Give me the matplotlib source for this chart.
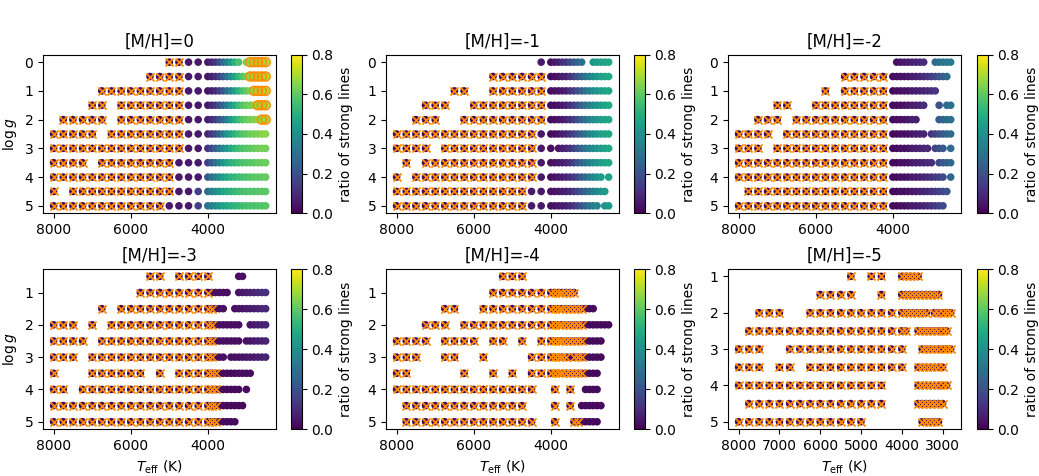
import numpy as np
import matplotlib.pyplot as plt

# Teff grid: hot part (250 K steps) and cool part (100 K steps)
hot_teff = [8000, 7750, 7500, 7250, 7000, 6750, 6500, 6250, 6000, 5750, 5500, 5250, 5000, 4750, 4500, 4250]
cool_teff = [4000, 3900, 3800, 3700, 3600, 3500, 3400, 3300, 3200, 3100, 3000, 2900, 2800, 2700, 2600, 2500]

logg_top = [0, 0.5, 1, 1.5, 2, 2.5, 3, 3.5, 4, 4.5, 5]
logg_bot = [0.5, 1, 1.5, 2, 2.5, 3, 3.5, 4, 4.5, 5]
logg_5 = [1, 1.5, 2, 2.5, 3, 3.5, 4, 4.5, 5]

titles = ['[M/H]=0', '[M/H]=-1', '[M/H]=-2', '[M/H]=-3', '[M/H]=-4', '[M/H]=-5']

# hot rows: '.' no model, 'x' flagged model, digit d -> ratio d*0.05
# cool rows: '.' no model, 'o' dot, 'x' flagged, 'c' circled; ratios (percent) for present points
cross_ratio = 0.02

hot_0 = ["............xx11", "..........xxxx11", ".....xxxxxxxxx11", "....xx.xxxxxxx11",
         ".xxxxx.xxxxxxx11", "xxxxx.xxxxxxxx11", "xxxxxxxxxxxxxx11", "xxxx.xxxxxxxx111",
         "xxxxxxxxxxxxx111", "x.xxxxxxxxxxx113", "xxxxxxxxxxxx1113"]
cool_0 = ["ooooooooo.occccc", "oooooooooooccccc", "oooooooooooocccc", "oooooooooooooccc",
          "oooooooooooooocc", "oooooooooooooooo", "oooooooooooooooo", "oooooooooooooooo",
          "oooooooooooooooo", "oooooooooooooooo", "oooooooooooooooo"]
ratio_0 = [[5, 8, 12, 18, 26, 34, 42, 50, 57, 64, 67, 68, 69, 70, 70],
           [4, 7, 10, 15, 22, 30, 38, 46, 53, 58, 62, 66, 68, 69, 70, 70],
           [4, 6, 9, 14, 20, 28, 36, 44, 51, 56, 60, 63, 66, 68, 69, 70],
           [5, 8, 12, 18, 25, 33, 41, 48, 54, 58, 61, 63, 65, 67, 68, 69],
           [6, 9, 13, 19, 26, 34, 42, 49, 54, 58, 61, 63, 64, 66, 67, 68],
           [8, 12, 17, 24, 32, 40, 46, 51, 55, 58, 60, 62, 63, 64, 65, 66],
           [12, 17, 23, 30, 37, 43, 48, 52, 55, 57, 59, 60, 61, 62, 63, 63],
           [15, 21, 28, 35, 41, 46, 50, 53, 55, 57, 58, 59, 60, 61, 61, 62],
           [22, 28, 34, 39, 44, 48, 51, 53, 55, 56, 57, 58, 59, 60, 60, 61],
           [28, 33, 38, 42, 46, 49, 51, 53, 55, 56, 57, 58, 58, 59, 59, 60],
           [30, 34, 38, 42, 45, 48, 50, 52, 53, 55, 56, 57, 57, 58, 58, 59]]

hot_1 = ["...............1", "..........xxxxxx", "......xx..xxxxxx", "...xxx..xxxxxxxx",
         "..xxx..xxxxxxxxx", "xxxxxxxxxxxxxxx1", "xxxx.xxxxxxxxxx1", ".x.xxxxxxxxxxxx1",
         "x.xxxxxxxxxxxxx1", "xxxxxxxxxxxxxx11", "xxxxxxxxxxxxxx11"]
cool_1 = ["ooooooooo..ooooo", "oooooooooooooooo", "oooooooooooooooo", "oooooooooooooooo",
          "oooooooooooooooo", "oooooooooooooooo", "o.oooooooooooooo", "oooooooooooooooo",
          "oooooooooooooo.o", "ooooooooooooooo.", "ooooooooooooo.oo"]
ratio_1 = [[3, 5, 7, 10, 13, 17, 21, 25, 29, 42, 44, 45, 46, 47],
           [2, 3, 4, 6, 8, 11, 15, 20, 25, 30, 35, 39, 42, 45, 47, 48],
           [2, 3, 4, 5, 7, 10, 14, 19, 24, 29, 34, 38, 41, 44, 46, 47],
           [2, 3, 4, 5, 7, 10, 14, 19, 24, 29, 34, 38, 41, 44, 46, 48],
           [2, 3, 4, 5, 7, 10, 14, 19, 24, 29, 34, 38, 41, 44, 46, 47],
           [2, 3, 4, 6, 8, 11, 15, 20, 25, 30, 35, 39, 42, 45, 46, 47],
           [3, 4, 6, 8, 11, 15, 20, 25, 30, 34, 38, 41, 44, 46, 47],
           [3, 4, 5, 6, 8, 11, 15, 20, 25, 30, 34, 38, 41, 44, 46, 47],
           [3, 4, 5, 6, 8, 10, 13, 17, 22, 27, 32, 36, 40, 43, 46],
           [3, 4, 5, 6, 7, 9, 12, 16, 20, 25, 29, 33, 37, 40, 43],
           [3, 4, 5, 6, 7, 9, 12, 16, 20, 25, 29, 33, 37, 41, 43]]

hot_2 = ["................", "...........xxxxx", ".........x.xxxxx", "....xx..xxxxxxxx",
         "..xxx.xxxxxxxxxx", "xxxx.xxxxxxxxxxx", "xxx.xxxxxxxxxxxx", "xxxxxxxxxxxxxxxx",
         "xxxxxxxxxxxxxxxx", ".xxxxxxxxxxxxxxx", "xxxxxxxxxxxxxxxx"]
cool_2 = [".oooooooo..ooooo", "ooooooooooooooo.", "oooooooooooo....", "ooooooooo...o.oo",
          "ooooooo.....oooo", "ooooooooo.oooooo", "oooooooooo.ooo.o", "ooooooooooo.oooo",
          "oooooooooooooo.o", "ooooooooooooooo.", "oooooooooooooo.."]
ratio_2 = [[3, 4, 5, 6, 7, 8, 9, 10, 28, 30, 31, 32, 33],
           [2, 3, 3, 4, 5, 6, 7, 8, 10, 12, 14, 17, 20, 23, 27],
           [2, 3, 3, 4, 4, 5, 6, 7, 8, 9, 10, 12],
           [2, 3, 3, 4, 5, 6, 7, 8, 10, 20, 28, 30],
           [2, 3, 3, 4, 5, 6, 7, 22, 25, 27, 29],
           [2, 2, 3, 3, 4, 5, 6, 7, 8, 12, 15, 18, 21, 25, 28],
           [2, 2, 3, 3, 4, 5, 6, 7, 8, 9, 16, 19, 22, 28],
           [2, 2, 3, 3, 4, 5, 6, 7, 8, 9, 10, 18, 21, 24, 27],
           [2, 2, 3, 3, 4, 5, 6, 7, 8, 9, 11, 13, 15, 18, 26],
           [2, 2, 3, 3, 4, 5, 6, 7, 8, 9, 11, 13, 15, 17, 20],
           [2, 2, 3, 3, 4, 5, 6, 7, 8, 9, 11, 13, 15, 18]]

hot_3 = ["..........xx.xxx", ".........xxxxxxx", ".....x.xxxxxxxxx", "xxx.x.xxxxxxxxxx",
         "xxxx.xxxxxxxxxxx", "xxx.xxxxxxxxxxxx", "x...xxxxxx.x.xxx", "xx.xxxxxxxxxxxxx",
         "xxxxxxxxxxxxxxxx", "xxxxxxxxxxxxxxxx"]
cool_3 = ["x.......oo", "xooooo..oooooooo", "xxooo..ooooooooo", "xxooooooo..ooooo",
          "xxooooooo.oooooo", "xxooo.oooooooooo", "xxxooooooooo", "xxxoooooo.o",
          "xxxooooooo", "xxxooooo"]
ratio_3 = [[2, 3, 3],
           [2, 3, 3, 3, 3, 3, 4, 5, 6, 7, 8, 9, 10, 11],
           [2, 2, 3, 3, 3, 3, 4, 4, 5, 5, 6, 7, 8, 9],
           [2, 2, 3, 3, 3, 3, 3, 3, 3, 4, 5, 6, 7, 8],
           [2, 2, 3, 3, 3, 3, 3, 3, 3, 4, 4, 5, 6, 7, 8],
           [2, 2, 3, 3, 3, 3, 3, 3, 4, 4, 5, 5, 6, 7, 8],
           [2, 2, 2, 2, 2, 2, 2, 2, 3, 3, 3, 3],
           [2, 2, 2, 2, 2, 2, 2, 2, 2, 3],
           [2, 2, 2, 2, 2, 2, 2, 2, 2, 2],
           [2, 2, 2, 2, 2, 2, 2, 2]]

hot_4 = ["...........xxx..", "..........xxxxxx", ".....xx..xxxxxxx", "...xxx.xxxxxxxxx",
         "xxxx.xxxx.xx.x.x", "xxx..xx..x....xx", "xx.....x..x.x.xx", "xxxxxxxxxxxxxxx.",
         ".xxxxxxxxxxxxx..", ".xxxxxxxxxxxxxx."]
cool_4 = ["", "xxxxxxx", "xxxxxxxxxooo", "xxxxxxxxxooooooo",
          "xxxxxxxxxooooo", "xxxxxoxxxooooo", "xxxxxxxxxoooo", ".x...x...oooo",
          ".x...x..oooooo", ".x....xxooooo"]
ratio_4 = [[],
           [2, 2, 2, 2, 2, 2, 2],
           [2, 2, 2, 2, 2, 2, 2, 2, 2, 2, 2, 2],
           [2, 2, 2, 2, 2, 2, 2, 2, 2, 2, 2, 2, 2, 2, 2, 2],
           [2, 2, 2, 2, 2, 2, 2, 2, 2, 2, 2, 2, 2, 2],
           [2, 2, 2, 2, 2, 2, 2, 2, 2, 2, 2, 2, 2, 2],
           [2, 2, 2, 2, 2, 2, 2, 2, 2, 2, 2, 2, 2],
           [2, 2, 2, 2, 2, 2],
           [2, 2, 2, 2, 2, 2, 2, 2],
           [2, 2, 2, 2, 2, 2, 2, 2]]

hot_5 = ["...........x.xx.", "........xxxx..x.", "..xxx..xxxxxxxxx", ".xxxxxxxxxxxxxxx",
         "xxx..xxxxxxxxxxx", "xxx.xx.xxxxxxxxx", "xxxxxxxxxxxxxxx.", ".xxxxxxxxxxxxxx.",
         "xxxxxxxxxxxxx..."]
cool_5 = ["xxxxx", "xxxxxxxxxx", "xxxxxxx.xxxxx", "xx..xxxxxxxx",
          "x....xxxxxxxx", "x...xxxxxxx", "....xxxxxxxx", "....xxxxxxx",
          ".....xxxxx"]
ratio_5 = [[2, 2, 2, 2, 2],
           [2, 2, 2, 2, 2, 2, 2, 2, 2, 2],
           [2, 2, 2, 2, 2, 2, 2, 2, 2, 2, 2, 2],
           [2, 2, 2, 2, 2, 2, 2, 2, 2, 2],
           [2, 2, 2, 2, 2, 2, 2, 2, 2],
           [2, 2, 2, 2, 2, 2, 2, 2],
           [2, 2, 2, 2, 2, 2, 2, 2],
           [2, 2, 2, 2, 2, 2, 2],
           [2, 2, 2, 2, 2]]

panels = [(logg_top, hot_0, cool_0, ratio_0),
          (logg_top, hot_1, cool_1, ratio_1),
          (logg_top, hot_2, cool_2, ratio_2),
          (logg_bot, hot_3, cool_3, ratio_3),
          (logg_bot, hot_4, cool_4, ratio_4),
          (logg_5, hot_5, cool_5, ratio_5)]

ORANGE = '#ff8c00'


def draw(ax, logg, hot, cool, ratio):
    xs, ys, cs = [], [], []
    crx, cry, cix, ciy = [], [], [], []
    for g, hrow, crow, rrow in zip(logg, hot, cool, ratio):
        for t, ch in zip(hot_teff, hrow):
            if ch == '.':
                continue
            xs.append(t)
            ys.append(g)
            if ch == 'x':
                cs.append(cross_ratio)
                crx.append(t)
                cry.append(g)
            else:
                cs.append(int(ch) * 0.05)
        vals = iter(rrow)
        for t, ch in zip(cool_teff, crow):
            if ch == '.':
                continue
            xs.append(t)
            ys.append(g)
            cs.append(next(vals) / 100)
            if ch == 'x':
                crx.append(t)
                cry.append(g)
            elif ch == 'c':
                cix.append(t)
                ciy.append(g)
    sc = ax.scatter(xs, ys, c=cs, cmap='viridis', vmin=0, vmax=0.8, s=30, linewidths=0)
    ax.scatter(crx, cry, marker='x', color=ORANGE, s=34, linewidths=1.3)
    if cix:
        ax.scatter(cix, ciy, facecolors='none', edgecolors=ORANGE, s=42, linewidths=1.1)
    return sc


fig = plt.figure(figsize=(10.39, 4.76), dpi=100)
lefts = [0.0414, 0.3715, 0.7007]
cb_lefts = [0.280, 0.6102, 0.9403]
bottoms = [0.5525, 0.0987]
heights = [0.332, 0.336]

for i, (logg, hot, cool, ratio) in enumerate(panels):
    r, c = divmod(i, 3)
    ax = fig.add_axes([lefts[c], bottoms[r], 0.2245, heights[r]])
    sc = draw(ax, logg, hot, cool, ratio)
    ax.invert_xaxis()
    ax.invert_yaxis()
    ax.set_title(titles[i])
    if i == 5:
        ax.set_xticks([8000, 7000, 6000, 5000, 4000, 3000])
    else:
        ax.set_xticks([8000, 6000, 4000])
    if r == 0:
        ax.set_yticks([0, 1, 2, 3, 4, 5])
    else:
        ax.set_yticks([1, 2, 3, 4, 5])
        ax.set_xlabel(r'$T_{\rm eff}$ (K)')
    if c == 0:
        ax.set_ylabel(r'$\log g$')
    cax = fig.add_axes([cb_lefts[c], bottoms[r], 0.0103, heights[r]])
    cb = fig.colorbar(sc, cax=cax, ticks=[0, 0.2, 0.4, 0.6, 0.8])
    cb.set_label('ratio of strong lines')

fig.savefig('out.png', dpi=100)
